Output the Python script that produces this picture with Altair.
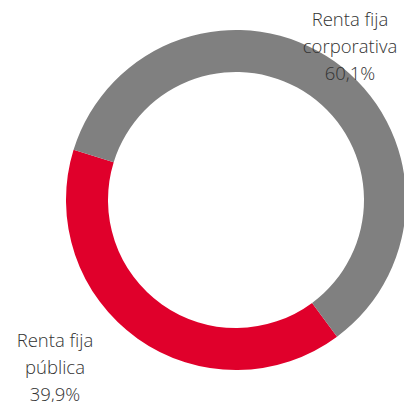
import altair as alt
import pandas as pd

categories = ["Renta fija pública", "Renta fija corporativa"]
label_lines = [["Renta fija", "pública"], ["Renta fija", "corporativa"]]
values = [39.9, 60.1]
colors = ["#E0002B", "#808080"]

df = pd.DataFrame({"cat": categories, "value": values, "order": [0, 1]})
start = 2.505
arc = alt.Chart(df).mark_arc(radius=170, innerRadius=128, stroke=None).encode(
    theta=alt.Theta("value:Q", stack=True, scale=alt.Scale(range=[start, start + 6.283185307])),
    color=alt.Color("cat:N", scale=alt.Scale(domain=categories, range=colors), legend=None),
    order=alt.Order("order:Q"),
    x=alt.value(228), y=alt.value(192),
)

def fmt(v):
    return f"{v:.1f}".replace(".", ",") + "%"

def label(i, x, y):
    d = pd.DataFrame({"t": [label_lines[i] + [fmt(values[i])]]})
    return alt.Chart(d).mark_text(
        font="Open Sans", fontWeight=300, fontSize=18.5, color="#333333",
        lineHeight=27, align="center", baseline="middle",
    ).encode(text="t", x=alt.value(x), y=alt.value(y))

chart = alt.layer(arc, label(1, 342, 12), label(0, 47, 333)).properties(
    width=396, height=394, autosize=alt.AutoSizeParams(type="none"), padding=0
).configure_view(stroke=None)

chart.save("out.html", embed_options={"renderer": "svg", "actions": False})
